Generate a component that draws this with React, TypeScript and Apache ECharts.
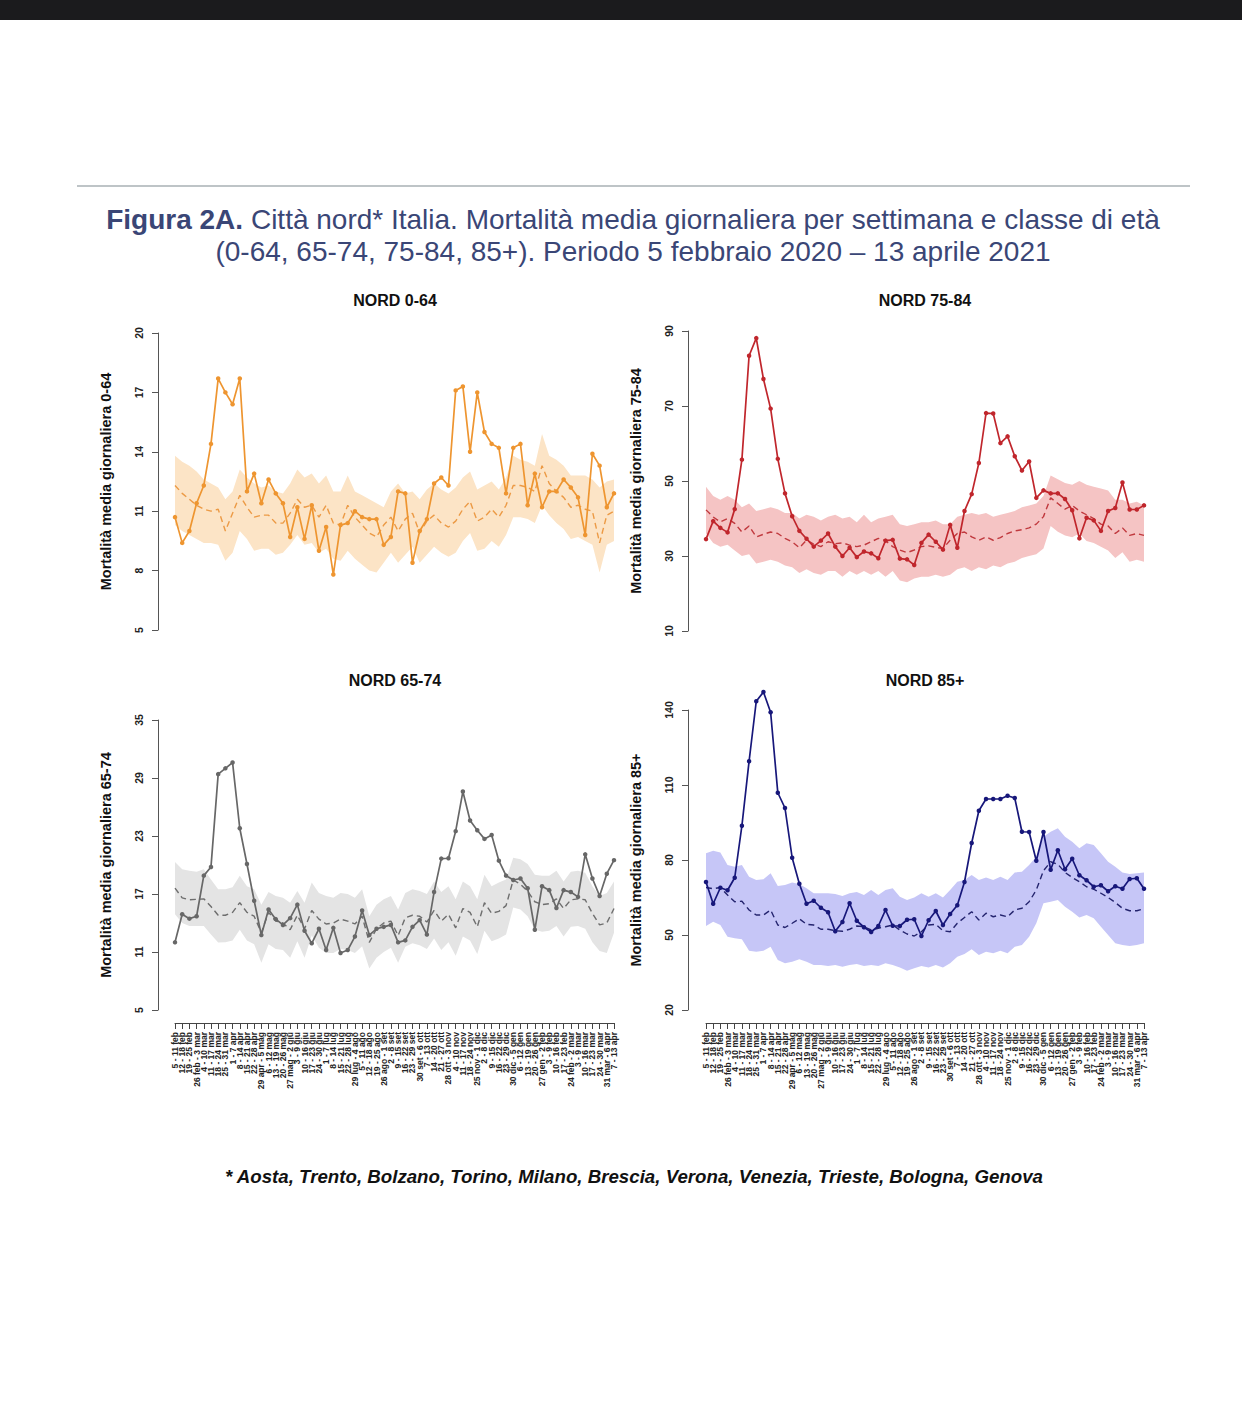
import React, { useEffect, useRef } from "react";
import * as echarts from "echarts";

const weekLabels = ["5 - 11 feb","12 - 18 feb","19 - 25 feb","26 feb - 3 mar","4 - 10 mar","11 - 17 mar","18 - 24 mar","25 - 31 mar","1 - 7 apr","8 - 14 apr","15 - 21 apr","22 - 28 apr","29 apr - 5 mag","6 - 12 mag","13 - 19 mag","20 - 26 mag","27 mag - 2 giu","3 - 9 giu","10 - 16 giu","17 - 23 giu","24 - 30 giu","1 - 7 lug","8 - 14 lug","15 - 21 lug","22 - 28 lug","29 lug - 4 ago","5 - 11 ago","12 - 18 ago","19 - 25 ago","26 ago - 1 set","2 - 8 set","9 - 15 set","16 - 22 set","23 - 29 set","30 set - 6 ott","7 - 13 ott","14 - 20 ott","21 - 27 ott","28 ott - 3 nov","4 - 10 nov","11 - 17 nov","18 - 24 nov","25 nov - 1 dic","2 - 8 dic","9 - 15 dic","16 - 22 dic","23 - 29 dic","30 dic - 5 gen","6 - 12 gen","13 - 19 gen","20 - 26 gen","27 gen - 2 feb","3 - 9 feb","10 - 16 feb","17 - 23 feb","24 feb - 2 mar","3 - 9 mar","10 - 16 mar","17 - 23 mar","24 - 30 mar","31 mar - 6 apr","7 - 13 apr"];

// NORD 0-64
const ticks064 = [5, 8, 11, 14, 17, 20];
const obs064 = [10.7, 9.4, 10.0, 11.4, 12.3, 14.4, 17.7, 17.0, 16.4, 17.7,
  12.0, 12.9, 11.4, 12.6, 11.9, 11.4, 9.7, 11.2, 9.6, 11.3,
  9.0, 10.2, 7.8, 10.3, 10.4, 11.0, 10.7, 10.6, 10.6, 9.3,
  9.7, 12.0, 11.9, 8.4, 10.0, 10.6, 12.4, 12.7, 12.3, 17.1,
  17.3, 14.0, 17.0, 15.0, 14.4, 14.2, 11.9, 14.2, 14.4, 11.3,
  12.9, 11.2, 12.0, 12.0, 12.6, 12.2, 11.7, 9.8, 13.9, 13.3,
  11.2, 11.9];
const exp064 = [12.3, 11.9, 11.6, 11.3, 11.1, 11.0, 11.1, 10.0, 10.9, 11.8,
  11.2, 10.7, 10.8, 10.8, 10.4, 10.4, 10.9, 11.6, 11.2, 11.3,
  10.7, 11.3, 10.4, 10.3, 11.3, 10.7, 10.3, 9.9, 9.7, 10.3,
  10.7, 10.0, 10.6, 10.9, 9.9, 10.5, 10.8, 10.4, 10.2, 10.5,
  11.1, 11.5, 10.5, 10.7, 11.1, 10.7, 11.3, 12.3, 12.3, 12.2,
  12.0, 13.3, 12.4, 12.0, 11.7, 11.2, 11.3, 11.1, 11.0, 9.4,
  10.8, 11.0];
const hi064 = [13.8, 13.5, 13.3, 13.0, 12.6, 12.4, 12.2, 11.6, 12.0, 13.1,
  12.7, 12.4, 12.2, 12.3, 12.0, 11.9, 12.4, 13.1, 12.7, 12.9,
  12.4, 12.8, 12.0, 12.0, 12.8, 12.0, 11.8, 11.6, 11.4, 11.2,
  12.0, 12.4, 11.9, 12.0, 11.6, 12.1, 12.4, 12.1, 11.9, 12.2,
  12.7, 13.0, 12.1, 12.3, 12.5, 12.1, 12.7, 13.8, 13.6, 13.5,
  13.3, 14.9, 13.8, 13.6, 13.3, 12.8, 12.8, 12.8, 12.6, 12.2,
  12.5, 12.6];
const lo064 = [10.3, 10.0, 9.8, 9.6, 9.4, 9.4, 9.3, 8.5, 8.9, 10.0,
  9.6, 9.0, 9.1, 9.1, 8.8, 8.9, 9.3, 9.8, 9.3, 9.4,
  8.9, 9.1, 8.6, 8.5, 9.0, 8.6, 8.3, 8.0, 7.9, 8.4,
  8.9, 8.4, 8.8, 9.2, 8.4, 8.8, 9.2, 8.9, 8.7, 8.9,
  9.5, 9.9, 9.0, 9.1, 9.5, 9.2, 9.8, 10.7, 10.7, 10.6,
  10.4, 11.3, 10.8, 10.4, 10.1, 9.6, 9.7, 9.5, 9.3, 7.9,
  9.3, 9.5];

// NORD 75-84
const ticks7584 = [10, 30, 50, 70, 90];
const obs7584 = [34.5, 39.3, 37.5, 36.3, 42.5, 55.7, 83.4, 88.1, 77.2, 69.3,
  55.9, 46.7, 40.6, 36.7, 34.6, 32.5, 34.1, 36.0, 32.5, 30.0,
  32.2, 29.7, 31.2, 30.7, 29.4, 34.1, 34.3, 29.3, 29.1, 27.6,
  33.5, 35.7, 33.8, 31.7, 38.3, 32.2, 42.0, 46.5, 54.8, 68.1,
  68.0, 60.1, 61.9, 56.6, 52.8, 55.2, 45.5, 47.5, 46.7, 46.7,
  45.2, 42.2, 34.7, 40.2, 39.5, 36.7, 42.0, 42.8, 49.6, 42.4,
  42.4, 43.5];
const exp7584 = [42.3, 40.4, 39.1, 40.0, 38.7, 36.4, 38.0, 35.1, 35.8, 36.4,
  36.0, 34.7, 33.8, 32.2, 34.2, 33.2, 32.5, 33.8, 33.3, 33.5,
  32.9, 32.5, 32.9, 33.8, 34.7, 34.1, 32.5, 31.6, 30.9, 31.6,
  32.5, 32.7, 32.3, 32.0, 34.2, 36.0, 36.4, 35.1, 34.2, 35.1,
  34.2, 34.9, 36.0, 36.7, 37.0, 37.5, 38.5, 40.5, 45.5, 44.0,
  42.5, 43.5, 42.0, 41.0, 40.0, 38.5, 38.0, 36.0, 37.5, 35.5,
  36.0, 35.5];
const hi7584 = [48.5, 46.0, 45.0, 46.0, 45.0, 43.0, 44.0, 42.0, 42.5, 43.0,
  42.5, 41.5, 41.5, 40.0, 41.0, 40.5, 39.5, 40.5, 41.0, 40.0,
  40.5, 39.0, 41.0, 39.0, 40.0, 40.5, 41.0, 38.5, 38.0, 38.5,
  39.0, 39.0, 39.5, 38.5, 38.5, 40.5, 41.0, 41.5, 41.0, 41.5,
  40.5, 41.0, 41.5, 42.0, 43.0, 43.5, 44.0, 46.0, 51.5, 50.5,
  49.5, 49.0, 50.0, 49.0, 48.5, 48.0, 47.5, 45.0, 45.0, 44.0,
  44.5, 43.5];
const lo7584 = [36.0, 33.5, 32.5, 33.0, 31.5, 30.0, 30.5, 28.0, 28.5, 29.0,
  28.5, 27.5, 27.0, 25.5, 26.5, 25.5, 25.0, 26.0, 26.0, 24.5,
  26.0, 25.0, 26.0, 25.0, 26.0, 24.5, 26.0, 23.5, 23.0, 24.0,
  24.5, 24.5, 25.0, 24.5, 25.0, 26.5, 27.0, 26.0, 27.0, 26.5,
  27.5, 27.0, 28.0, 28.5, 29.5, 30.0, 30.5, 32.0, 38.0, 36.5,
  35.5, 35.0, 36.0, 34.0, 33.5, 32.5, 31.5, 29.5, 31.0, 28.5,
  29.0, 28.5];

// NORD 65-74
const ticks6574 = [5, 11, 17, 23, 29, 35];
const obs6574 = [12.0, 14.9, 14.45, 14.7, 18.9, 19.8, 29.4, 30.0, 30.6, 23.8,
  20.1, 16.3, 12.75, 15.4, 14.4, 13.8, 14.5, 15.9, 13.2, 11.9,
  13.4, 11.2, 13.5, 10.9, 11.2, 12.6, 15.3, 12.75, 13.4, 13.6,
  13.8, 12.0, 12.2, 13.6, 14.3, 12.8, 17.2, 20.66, 20.7, 23.5,
  27.6, 24.6, 23.6, 22.7, 23.1, 20.45, 18.9, 18.45, 18.6, 17.6,
  13.3, 17.8, 17.4, 15.55, 17.4, 17.2, 16.7, 21.1, 18.6, 16.8,
  19.1, 20.5];
const exp6574 = [17.6, 16.6, 16.4, 16.45, 16.5, 15.7, 14.8, 14.8, 15.1, 16.1,
  15.1, 14.7, 13.0, 15.1, 14.2, 14.0, 13.3, 14.8, 13.4, 15.3,
  14.4, 13.9, 14.0, 14.4, 14.2, 13.9, 14.7, 12.0, 13.4, 14.0,
  14.2, 12.7, 14.55, 14.8, 14.7, 14.1, 15.3, 14.2, 14.9, 13.5,
  15.5, 15.1, 13.6, 16.1, 15.0, 15.2, 15.8, 18.45, 18.0, 17.3,
  16.2, 15.9, 16.0, 16.5, 15.5, 16.4, 16.5, 16.4, 15.0, 13.8,
  14.0, 15.5];
const hi6574 = [20.3, 19.55, 19.4, 19.3, 19.55, 18.5, 17.5, 17.5, 17.7, 18.9,
  17.8, 17.5, 15.9, 17.2, 16.8, 16.6, 16.1, 17.3, 16.1, 18.2,
  17.1, 16.8, 16.6, 17.1, 17.0, 16.6, 17.5, 14.7, 15.9, 16.45,
  16.8, 15.4, 17.1, 17.5, 17.3, 17.0, 18.3, 17.2, 17.8, 16.45,
  18.3, 17.8, 16.45, 19.0, 17.8, 18.2, 18.5, 20.75, 20.6, 20.1,
  19.0, 18.9, 18.9, 19.4, 18.3, 19.3, 19.4, 19.2, 17.8, 16.8,
  17.1, 18.3];
const lo6574 = [14.9, 14.0, 13.7, 13.7, 13.7, 12.8, 11.97, 12.0, 12.2, 13.3,
  12.2, 11.8, 9.9, 11.8, 11.3, 11.2, 10.4, 12.1, 10.4, 12.7,
  11.45, 10.9, 10.9, 11.3, 11.2, 10.9, 11.6, 9.3, 10.4, 11.0,
  11.45, 9.9, 11.55, 11.9, 11.7, 11.3, 12.4, 11.2, 12.0, 10.6,
  12.6, 12.2, 10.8, 13.2, 12.1, 12.4, 12.8, 15.6, 15.4, 14.7,
  13.3, 13.1, 13.2, 13.7, 12.6, 13.6, 13.7, 13.4, 12.0, 11.1,
  10.9, 13.0];

// NORD 85+
const ticks85 = [20, 50, 80, 110, 140];
const obs85 = [71.2, 62.5, 68.9, 67.9, 72.9, 93.7, 119.5, 143.5, 147.2, 139.1,
  106.9, 100.8, 80.9, 70.5, 62.5, 63.7, 60.9, 59.1, 51.5, 55.2,
  62.7, 55.7, 53.1, 51.2, 53.6, 60.0, 53.7, 53.6, 56.1, 56.3,
  49.6, 55.9, 59.6, 54.0, 58.4, 61.9, 71.2, 86.8, 99.7, 104.4,
  104.4, 104.4, 105.7, 104.8, 91.3, 91.2, 79.7, 91.2, 76.1, 83.9,
  76.3, 80.5, 73.9, 71.9, 69.3, 69.9, 67.5, 69.5, 68.5, 72.4,
  72.7, 68.5];
const exp85 = [69.0, 68.5, 69.0, 66.0, 63.3, 63.5, 60.0, 58.0, 58.0, 60.0,
  54.0, 53.0, 54.7, 56.5, 54.3, 54.0, 52.3, 52.3, 51.7, 51.5,
  52.3, 53.6, 53.3, 52.0, 52.7, 53.3, 54.0, 52.0, 50.4, 49.6,
  51.3, 54.0, 54.3, 51.7, 51.3, 54.7, 57.0, 59.3, 56.0, 58.7,
  57.3, 58.0, 57.3, 60.0, 60.7, 63.3, 68.0, 75.7, 79.3, 78.3,
  75.0, 73.0, 71.3, 69.3, 68.3, 66.7, 65.0, 63.0, 60.7, 59.7,
  59.7, 60.5];
const hi85 = [82.7, 83.7, 83.0, 78.0, 77.3, 78.0, 73.3, 72.0, 72.3, 74.7,
  69.6, 70.0, 71.0, 70.4, 68.7, 66.7, 66.7, 66.7, 66.4, 65.6,
  66.7, 67.2, 66.0, 68.0, 66.0, 68.0, 68.7, 65.3, 64.0, 65.0,
  66.7, 65.3, 66.7, 65.0, 68.0, 71.3, 72.0, 74.0, 72.0, 73.0,
  72.0, 73.3, 72.0, 75.0, 75.3, 78.0, 81.3, 89.3, 91.3, 92.7,
  89.3, 87.3, 84.7, 86.7, 86.0, 82.7, 79.3, 77.3, 75.0, 74.4,
  74.7, 75.0];
const lo85 = [53.6, 55.3, 54.0, 49.3, 48.7, 48.3, 43.7, 43.3, 43.7, 45.3,
  40.0, 38.7, 39.3, 40.3, 39.3, 38.0, 38.0, 37.6, 38.0, 37.3,
  38.0, 38.4, 37.6, 38.0, 37.6, 38.7, 38.0, 37.0, 35.7, 36.7,
  37.6, 37.0, 38.0, 37.0, 38.7, 41.3, 42.4, 44.3, 42.0, 43.3,
  42.7, 43.7, 42.7, 45.3, 46.0, 49.3, 54.7, 62.7, 63.3, 64.0,
  61.3, 59.3, 57.0, 58.0, 56.7, 53.3, 50.0, 46.7, 46.0, 45.6,
  46.0, 46.7];

const FONT = "'Liberation Sans', Arial, Helvetica, sans-serif";

type Panel = {
  title: string; yName: string; ticks: number[];
  obs: number[]; exp: number[]; hi: number[]; lo: number[];
  line: string; band: string; dash: string;
  grid: { left: number; top: number; width: number; height: number };
  yOffset: number; showX: boolean; titleX: number; titleY: number;
};

const panels: Panel[] = [
  { title: "NORD 0-64", yName: "Mortalità media giornaliera 0-64", ticks: ticks064,
    obs: obs064, exp: exp064, hi: hi064, lo: lo064,
    line: "#EE9530", band: "#FCE4C6", dash: "#EC9A45",
    grid: { left: 175, top: 333, width: 439, height: 297 }, yOffset: 17, showX: false, titleX: 395, titleY: 300 },
  { title: "NORD 75-84", yName: "Mortalità media giornaliera 75-84", ticks: ticks7584,
    obs: obs7584, exp: exp7584, hi: hi7584, lo: lo7584,
    line: "#C0262C", band: "#F5C4C4", dash: "#C0393E",
    grid: { left: 706, top: 331, width: 438, height: 300 }, yOffset: 18, showX: false, titleX: 925, titleY: 300 },
  { title: "NORD 65-74", yName: "Mortalità media giornaliera 65-74", ticks: ticks6574,
    obs: obs6574, exp: exp6574, hi: hi6574, lo: lo6574,
    line: "#676767", band: "#E4E4E4", dash: "#6E6E6E",
    grid: { left: 175, top: 720, width: 439, height: 290 }, yOffset: 17, showX: true, titleX: 395, titleY: 680 },
  { title: "NORD 85+", yName: "Mortalità media giornaliera 85+", ticks: ticks85,
    obs: obs85, exp: exp85, hi: hi85, lo: lo85,
    line: "#17177A", band: "#C6C6F7", dash: "#24246E",
    grid: { left: 706, top: 710, width: 438, height: 300 }, yOffset: 18, showX: true, titleX: 925, titleY: 680 },
];

export default function App() {
  const ref = useRef<HTMLDivElement>(null);
  useEffect(() => {
    if (!ref.current) return;
    const chart = echarts.init(ref.current, undefined, { renderer: "svg" });
    const grid: any[] = [];
    const xAxis: any[] = [];
    const yAxis: any[] = [];
    const series: any[] = [];
    const graphic: any[] = [
      { type: "rect", shape: { x: 0, y: 0, width: 1242, height: 20 }, style: { fill: "#1b1b1d" }, silent: true },
      { type: "line", shape: { x1: 77, y1: 186, x2: 1190, y2: 186 }, style: { stroke: "#a8b1b4", lineWidth: 1.5 }, silent: true },
      { type: "text", x: 633, y: 219, silent: true,
        style: { text: "{b|Figura 2A.} Città nord* Italia. Mortalità media giornaliera per settimana e classe di età",
          align: "center", verticalAlign: "middle", font: `28px ${FONT}`, fill: "#3a4676",
          rich: { b: { fontWeight: "bold", fontSize: 28, fontFamily: FONT, fill: "#3a4676" } } } },
      { type: "text", x: 633, y: 251, silent: true,
        style: { text: "(0-64, 65-74, 75-84, 85+). Periodo 5 febbraio 2020 – 13 aprile 2021",
          align: "center", verticalAlign: "middle", font: `28px ${FONT}`, fill: "#3a4676" } },
      { type: "text", x: 634, y: 1176, silent: true,
        style: { text: "* Aosta, Trento, Bolzano, Torino, Milano, Brescia, Verona, Venezia, Trieste, Bologna, Genova",
          align: "center", verticalAlign: "middle", font: `italic bold 18.7px ${FONT}`, fill: "#111" } },
    ];
    panels.forEach((p, i) => {
      grid.push({ ...p.grid, containLabel: false });
      graphic.push({ type: "text", x: p.titleX, y: p.titleY, silent: true,
        style: { text: p.title, align: "center", verticalAlign: "middle", font: `bold 16px ${FONT}`, fill: "#111" } });
      xAxis.push({
        type: "category", gridIndex: i, data: weekLabels, boundaryGap: false,
        show: p.showX, offset: 13,
        axisLine: { show: true, lineStyle: { color: "#444", width: 1 } },
        axisTick: { show: true, length: 6, interval: 0, lineStyle: { color: "#444" } },
        axisLabel: { interval: 0, rotate: 90, fontSize: 8.5, fontWeight: "bold", color: "#222", margin: 9, fontFamily: FONT },
        splitLine: { show: false },
      });
      yAxis.push({
        type: "value", gridIndex: i, min: p.ticks[0], max: p.ticks[p.ticks.length - 1],
        offset: p.yOffset, position: "left",
        name: p.yName, nameLocation: "middle", nameGap: 45, nameRotate: 90,
        nameTextStyle: { fontSize: 14.5, fontWeight: "bold", color: "#111", fontFamily: FONT },
        axisLine: { show: true, lineStyle: { color: "#555", width: 1 } },
        axisTick: { show: true, length: 6, customValues: p.ticks, lineStyle: { color: "#555" } },
        axisLabel: { customValues: p.ticks, rotate: 90, fontSize: 10.5, fontWeight: "bold", color: "#222", margin: 14, fontFamily: FONT },
        splitLine: { show: false },
      });
      const diff = p.hi.map((v, k) => +(v - p.lo[k]).toFixed(3));
      series.push({
        type: "line", xAxisIndex: i, yAxisIndex: i, data: p.lo, stack: "band" + i,
        symbol: "none", lineStyle: { opacity: 0 }, silent: true, z: 1,
      });
      series.push({
        type: "line", xAxisIndex: i, yAxisIndex: i, data: diff, stack: "band" + i,
        symbol: "none", lineStyle: { opacity: 0 }, areaStyle: { color: p.band, opacity: 1 }, silent: true, z: 1,
      });
      series.push({
        type: "line", xAxisIndex: i, yAxisIndex: i, data: p.exp, symbol: "none", clip: false,
        lineStyle: { color: p.dash, width: 1.4, type: [6, 4] }, silent: true, z: 3,
      });
      series.push({
        type: "line", xAxisIndex: i, yAxisIndex: i, data: p.obs, clip: false,
        symbol: "circle", symbolSize: 4.5, showSymbol: true,
        itemStyle: { color: p.line }, lineStyle: { color: p.line, width: 1.7 }, silent: true, z: 4,
      });
    });
    chart.setOption({
      animation: false,
      backgroundColor: "#ffffff",
      textStyle: { fontFamily: FONT },
      grid, xAxis, yAxis, series, graphic,
    });
    return () => chart.dispose();
  }, []);
  return (
    <div ref={ref} style={{ position: "absolute", left: 0, top: 0, width: 1242, height: 1426, background: "#fff" }} />
  );
}
